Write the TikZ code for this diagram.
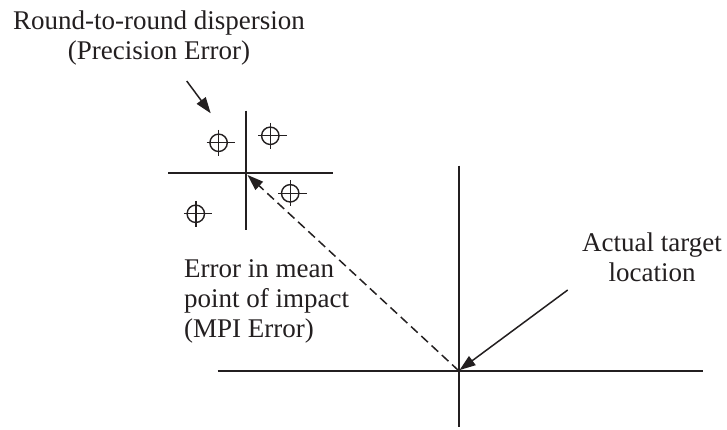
\documentclass[tikz,border=0pt]{standalone}
\usepackage{fontspec}
\setmainfont{Liberation Serif}
\usepackage{xcolor}
\usetikzlibrary{arrows.meta,positioning}
\definecolor{ink}{HTML}{231F20}
\tikzset{
  axisline/.style={draw=ink,line width=1.6pt},
  heavyline/.style={draw=ink,line width=2.6pt},
  hitmark/.style={draw=ink,line width=1.4pt},
  callout/.style={-{Triangle[length=16pt,width=11pt]},draw=ink,line width=1.5pt},
  mpiarr/.style={callout,dash pattern=on 9pt off 5pt},
  notetext/.style={font=\fontsize{27}{30}\selectfont,text=ink,inner sep=0pt}
}

\begin{document}
\begin{tikzpicture}[x=1pt,y=-1pt]
  \fill[white] (0,0) rectangle (727,430);
  \useasboundingbox (0,0) rectangle (727,430);

  % reference points
  \coordinate (target) at (458.7,370.7);
  \coordinate (mpi) at (245.7,173.3);
  \coordinate (precstart) at (186.7,81);
  \coordinate (precend) at (210.7,113.3);
  \coordinate (aimstart) at (567.7,290);

  % target axes
  \draw[axisline] (458.7,165.7) -- (458.7,427);
  \draw[axisline] (217.8,370.7) -- (703.4,370.7);
  \draw[heavyline] (217.8,371) -- (380,371);

  % mean point of impact axes
  \draw[axisline] (168,173.3) -- (332.7,173.3);
  \draw[axisline] (245.7,110.7) -- (245.7,230);

  % rounds
  \foreach \cx/\cy in {218.6/142.8,270.3/135.8,290.2/193.3,195.8/213.8} {
    \draw[hitmark] (\cx,\cy) circle[radius=8.7pt];
    \draw[hitmark] ({\cx-12},\cy) -- ({\cx+16.5},\cy);
    \draw[hitmark] (\cx,{\cy-13}) -- (\cx,{\cy+13});
  }

  % labels (base = last line)
  \node[notetext,align=center,anchor=base] (precnote) at (159,60)
    {Round-to-round dispersion\\(Precision Error)};
  \node[notetext,align=left,anchor=base west] (mpinote) at (184,337)
    {Error in mean\\point of impact\\(MPI Error)};
  \node[notetext,align=center,anchor=base] (targetnote) at (652,281)
    {Actual target\\location};

  % arrows
  \draw[callout] (precstart) -- (precend);
  \draw[mpiarr,shorten >=2.5pt] (target) -- (mpi);
  \draw[callout,shorten >=1pt] (aimstart) -- (target);
\end{tikzpicture}
\end{document}
